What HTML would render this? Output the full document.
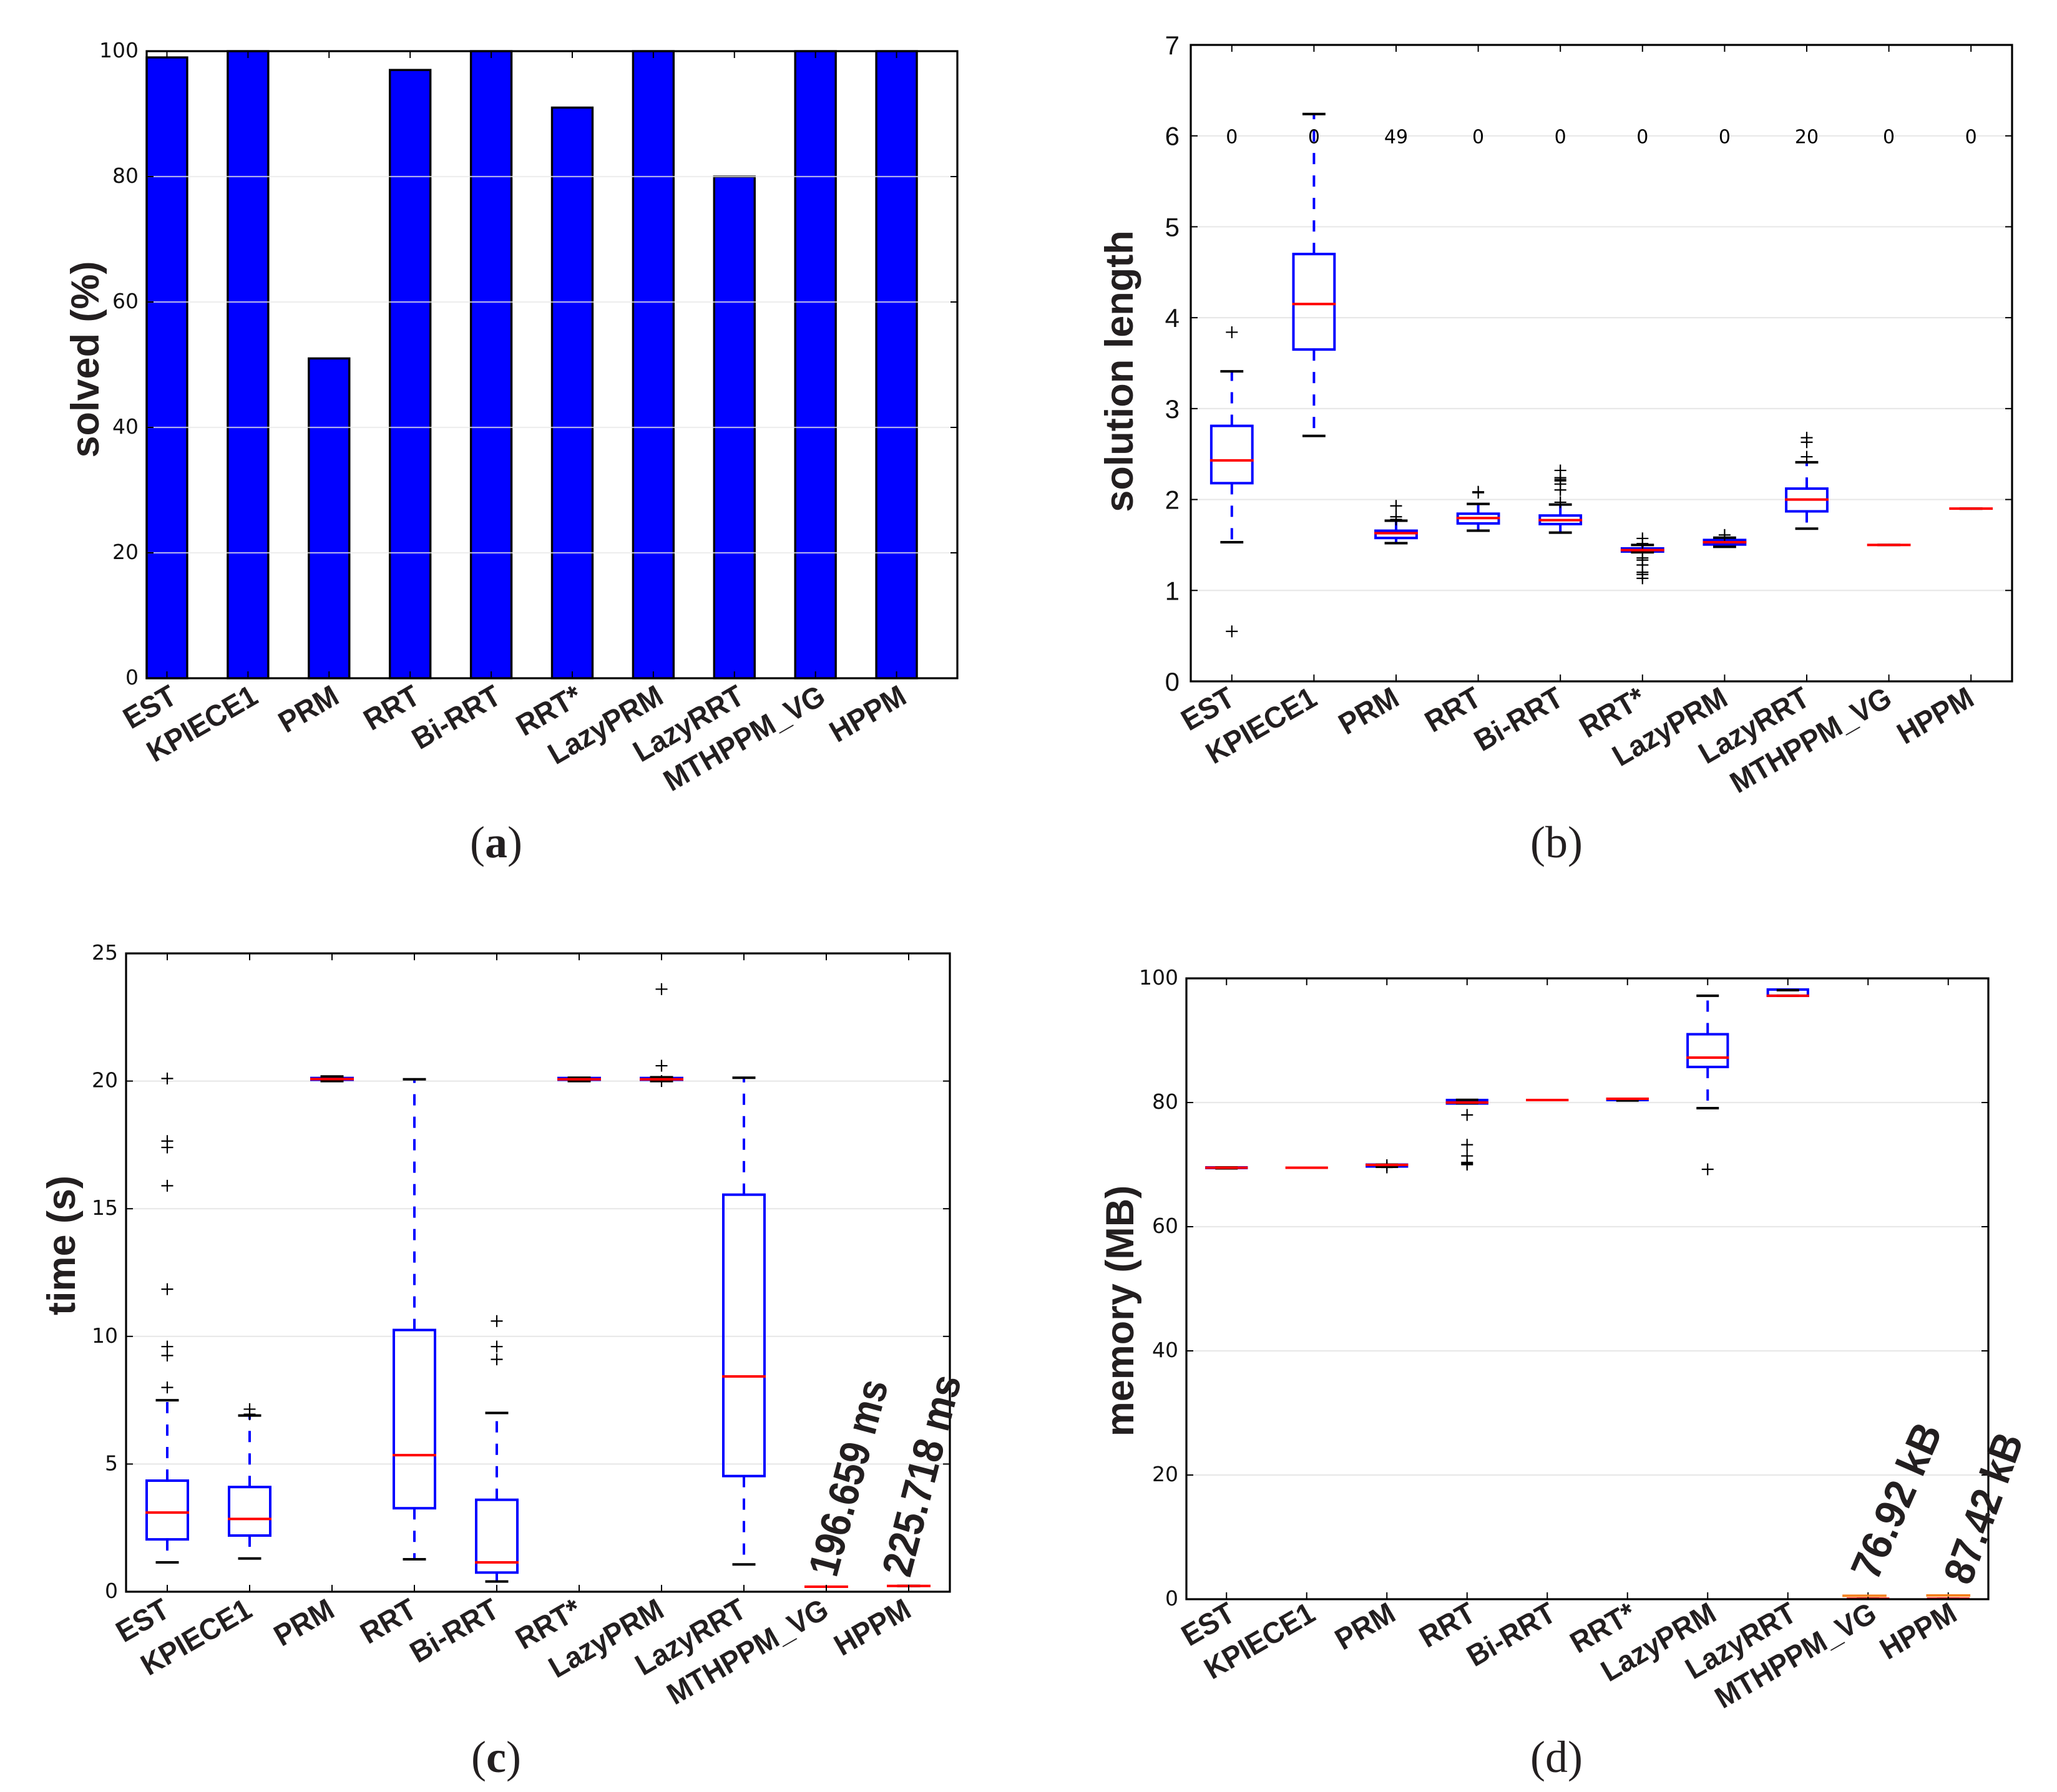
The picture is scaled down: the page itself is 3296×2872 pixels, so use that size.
<!DOCTYPE html>
<html lang="en">
<head>
<meta charset="utf-8">
<title>Planner benchmark charts</title>
<style>
html,body{margin:0;padding:0;background:#fff;}
svg{display:block;}
.ytitle{font:bold 63px "Liberation Sans",sans-serif;fill:#231f20;text-anchor:middle;}
.cap{font:72px "Liberation Serif",serif;fill:#231f20;text-anchor:middle;}
.note{font:bold 68px "Liberation Sans",sans-serif;fill:#231f20;}
</style>
</head>
<body>
<svg id="fig" xmlns="http://www.w3.org/2000/svg" width="3296" height="2872" viewBox="0 0 3296 2872">
<rect width="3296" height="2872" fill="#fff"/>
<g id="pa"></g>
<g id="pb"></g>
<g id="pc"></g>
<g id="pd"></g>

<text class="ytitle" transform="translate(158,576) rotate(-90)">solved (%)</text>
<text class="ytitle" transform="translate(1815,595) rotate(-90)">solution length</text>
<text class="ytitle" transform="translate(120,1996) rotate(-90)">time (s)</text>
<text class="ytitle" transform="translate(1816,2101) rotate(-90)">memory (MB)</text>

<text class="note" transform="translate(1340,2530) rotate(-75) scale(.89,1)">196.659 ms</text>
<text class="note" transform="translate(1458,2530) rotate(-75.5) scale(.91,1)">225.718 ms</text>
<text class="note" transform="translate(3007,2536) rotate(-66.4) scale(.96,1)">76.92 kB</text>
<text class="note" transform="translate(3157,2543) rotate(-70) scale(.91,1)">87.42 kB</text>

<text class="cap" x="795" y="1374"><tspan>(</tspan><tspan font-weight="bold">a</tspan><tspan>)</tspan></text>
<text class="cap" x="2494" y="1374">(b)</text>
<text class="cap" x="795" y="2840"><tspan>(</tspan><tspan font-weight="bold">c</tspan><tspan>)</tspan></text>
<text class="cap" x="2494" y="2840">(d)</text>
</svg>

<script>
const categories = ['EST','KPIECE1','PRM','RRT','Bi-RRT','RRT*','LazyPRM','LazyRRT','MTHPPM_VG','HPPM'];

const solvedValues = [99,100,51,97,100,91,100,80,100,100];
const solvedTicks = [0,20,40,60,80,100];

const lengthLow = [1.53,2.70,1.52,1.657,1.636,1.42,1.48,1.68,1.5,1.9];
const lengthQ1 = [2.18,3.65,1.577,1.737,1.73,1.428,1.505,1.87,1.5,1.9];
const lengthMedian = [2.43,4.15,1.63,1.796,1.773,1.444,1.53,2.0,1.5,1.9];
const lengthQ3 = [2.81,4.70,1.657,1.844,1.824,1.462,1.555,2.12,1.5,1.9];
const lengthHigh = [3.41,6.24,1.767,1.952,1.945,1.50,1.58,2.41,1.5,1.9];
const lengthFliers = [[3.84,0.55],[],[1.93,1.81,1.78],[2.085,2.075],[1.97,2.105,2.17,2.205,2.22,2.24,2.32],[1.572,1.515,1.357,1.334,1.28,1.2,1.176,1.133],[1.61],[2.47,2.63,2.68],[],[]];
const lengthTicks = [0,1,2,3,4,5,6,7];
const unsolvedCounts = ['0','0','49','0','0','0','0','20','0','0'];
const unsolvedLevel = 6;

const timeLow = [1.15,1.3,20.0,1.27,0.4,20.0,20.0,1.07,0.197,0.226];
const timeQ1 = [2.05,2.2,20.05,3.27,0.75,20.05,20.05,4.53,0.197,0.226];
const timeMedian = [3.1,2.85,20.08,5.35,1.15,20.07,20.07,8.43,0.197,0.226];
const timeQ3 = [4.35,4.1,20.12,10.25,3.6,20.12,20.12,15.55,0.197,0.226];
const timeHigh = [7.5,6.9,20.18,20.07,7.0,20.13,20.15,20.13,0.197,0.226];
const timeFliers = [[8.0,9.25,9.6,11.85,15.9,17.4,17.65,20.1],[6.95,7.15],[],[],[9.1,9.6,10.6],[],[20.0,20.6,23.6],[],[],[]];
const timeTicks = [0,5,10,15,20,25];

const memoryLow = [69.4,69.5,69.65,79.9,80.4,80.33,79.1,97.2,0.077,0.087];
const memoryQ1 = [69.45,69.5,69.7,79.85,80.4,80.4,85.73,97.2,0.077,0.087];
const memoryMedian = [69.5,69.5,69.95,80.0,80.4,80.6,87.24,97.2,0.077,0.087];
const memoryQ3 = [69.55,69.5,70.0,80.4,80.4,80.6,91.0,98.2,0.077,0.087];
const memoryHigh = [69.55,69.5,70.0,80.43,80.4,80.6,97.2,98.1,0.077,0.087];
const memoryFliers = [[],[],[69.9,69.55],[78,73.2,71.4,70.35,70.15,70],[],[],[69.25],[],[],[]];
const memoryTicks = [0,20,40,60,80,100];
const orangeCategories = [8.955,10];
const orangeValues = [0.55,0.6];

const NS = 'http://www.w3.org/2000/svg';
function mk(parent, tag, attrs, text) {
  const e = document.createElementNS(NS, tag);
  for (const k in attrs) e.setAttribute(k, attrs[k]);
  if (text !== undefined) e.textContent = text;
  parent.appendChild(e);
  return e;
}
function scales(g) {
  return {
    x: v => g.left + (v - g.xMin) / (g.xMax - g.xMin) * (g.right - g.left),
    y: v => g.bottom - (v - g.yMin) / (g.yMax - g.yMin) * (g.bottom - g.top)
  };
}

function drawGrid(p, g, s, ticks) {
  ticks.forEach(t => {
    if (t === ticks[0] || t === ticks[ticks.length - 1]) return;
    const ln = mk(p, 'line', {x1:g.left, x2:g.right, y1:s.y(t), y2:s.y(t), stroke:'#e8e8e8', 'stroke-width':2.2, 'stroke-opacity':g.gridOpacity});
    
    
  });
}

function drawFrame(p, g, s, ticks, xTicks) {
  ticks.forEach(t => {
    const l = mk(p, 'line', {x1:g.left, x2:g.left + 11, y1:s.y(t), y2:s.y(t), stroke:'#000', 'stroke-width':2});
    
    
    const r = mk(p, 'line', {x1:g.right - 11, x2:g.right, y1:s.y(t), y2:s.y(t), stroke:'#000', 'stroke-width':2});
    
    
    const lab = mk(p, 'text', {x:g.left - g.labelGap, y:s.y(t) + g.tickDy, 'text-anchor':'end', 'font-family':g.tickFont, 'font-size':g.tickSize, fill:'#111'}, String(t));
    
    
  });
  categories.forEach((c, i) => {
    const x = s.x(xTicks[i]);
    const top = mk(p, 'line', {x1:x, x2:x, y1:g.top, y2:g.top + 11, stroke:'#000', 'stroke-width':2});
    
    
    const bot = mk(p, 'line', {x1:x, x2:x, y1:g.bottom - 11, y2:g.bottom, stroke:'#000', 'stroke-width':2});
    
    
    const lab = mk(p, 'text', {
      transform:'translate(' + (x + g.xLabelDx) + ',' + (g.bottom + g.xLabelDy) + ') rotate(-30) scale(.95,1)',
      'text-anchor':'end', 'font-family':'"Liberation Sans",sans-serif', 'font-weight':'bold', 'font-size':48, fill:'#231f20'
    }, c);
    
    
  });
  const frame = mk(p, 'rect', {x:g.left, y:g.top, width:g.right - g.left, height:g.bottom - g.top, fill:'none', stroke:'#000', 'stroke-width':3.2});
  
  
}

function drawBoxes(p, g, s, low, q1, med, q3, high, fliers) {
  const unit = s.x(1) - s.x(0);
  categories.forEach((c, i) => {
    const x = s.x(i + 1), hw = unit * 0.25, cw = unit * 0.14;
    const whiskerUp = mk(p, 'line', {x1:x, x2:x, y1:s.y(q3[i]), y2:s.y(high[i]), stroke:'#00f', 'stroke-width':4, 'stroke-dasharray':'18 18'});
    
    
    const whiskerDown = mk(p, 'line', {x1:x, x2:x, y1:s.y(q1[i]), y2:s.y(low[i]), stroke:'#00f', 'stroke-width':4, 'stroke-dasharray':'18 18'});
    
    
    const box = mk(p, 'rect', {x:x - hw, y:s.y(q3[i]), width:hw * 2, height:Math.max(0, s.y(q1[i]) - s.y(q3[i])), fill:'none', stroke:'#00f', 'stroke-width':4});
    
    
    const capHigh = mk(p, 'line', {x1:x - cw, x2:x + cw, y1:s.y(high[i]), y2:s.y(high[i]), stroke:'#000', 'stroke-width':4});
    
    
    const capLow = mk(p, 'line', {x1:x - cw, x2:x + cw, y1:s.y(low[i]), y2:s.y(low[i]), stroke:'#000', 'stroke-width':4});
    
    
    fliers[i].forEach(v => {
      const y = s.y(v);
      const f = mk(p, 'path', {d:'M' + (x - 9.5) + ' ' + y + 'H' + (x + 9.5) + 'M' + x + ' ' + (y - 9.5) + 'V' + (y + 9.5), stroke:'#000', 'stroke-width':2.2, fill:'none'});
      
      
    });
    const m = mk(p, 'line', {x1:x - hw - 2, x2:x + hw + 2, y1:s.y(med[i]), y2:s.y(med[i]), stroke:'#f00', 'stroke-width':4});
    
    
  });
}

const dejavu = '"DejaVu Sans",sans-serif';
const tickPositions = categories.map((c, i) => i + 1);

/* panel a */
(function () {
  const g = {left:235, right:1534, top:82, bottom:1087, xMin:0, xMax:10, yMin:0, yMax:100, labelGap:13, tickDy:10, tickFont:dejavu, tickSize:33, xLabelDx:19, xLabelDy:38, gridOpacity:0.75};
  const s = scales(g), p = document.getElementById('pa');
  solvedValues.forEach((v, i) => {
    const b = mk(p, 'rect', {x:s.x(i), y:s.y(v), width:s.x(i + 0.5) - s.x(i), height:s.y(0) - s.y(v), fill:'#00f', stroke:'#000', 'stroke-width':3.4});
    
    
  });
  drawGrid(p, g, s, solvedTicks);
  drawFrame(p, g, s, solvedTicks, categories.map((c, i) => i + 0.25));
})();

/* panel b */
(function () {
  const g = {left:1908, right:3224, top:72, bottom:1092, xMin:0.5, xMax:10.5, yMin:0, yMax:7, labelGap:18, tickDy:15, tickFont:'"Liberation Sans",sans-serif', tickSize:42, xLabelDx:8, xLabelDy:36, gridOpacity:1};
  const s = scales(g), p = document.getElementById('pb');
  drawGrid(p, g, s, lengthTicks);
  drawBoxes(p, g, s, lengthLow, lengthQ1, lengthMedian, lengthQ3, lengthHigh, lengthFliers);
  drawFrame(p, g, s, lengthTicks, tickPositions);
  unsolvedCounts.forEach((t, i) => {
    const lab = mk(p, 'text', {x:s.x(i + 1), y:s.y(unsolvedLevel) + 12, 'text-anchor':'middle', 'font-family':dejavu, 'font-size':30, fill:'#000'}, t);
    
    
  });
})();

/* panel c */
(function () {
  const g = {left:202, right:1522, top:1528, bottom:2551, xMin:0.5, xMax:10.5, yMin:0, yMax:25, labelGap:13, tickDy:10, tickFont:dejavu, tickSize:33, xLabelDx:7, xLabelDy:38, gridOpacity:1};
  const s = scales(g), p = document.getElementById('pc');
  drawGrid(p, g, s, timeTicks);
  drawBoxes(p, g, s, timeLow, timeQ1, timeMedian, timeQ3, timeHigh, timeFliers);
  drawFrame(p, g, s, timeTicks, tickPositions);
})();

/* panel d */
(function () {
  const g = {left:1901, right:3186, top:1568, bottom:2563, xMin:0.5, xMax:10.5, yMin:0, yMax:100, labelGap:13, tickDy:10, tickFont:dejavu, tickSize:33, xLabelDx:17, xLabelDy:32, gridOpacity:1};
  const s = scales(g), p = document.getElementById('pd');
  drawGrid(p, g, s, memoryTicks);
  drawBoxes(p, g, s, memoryLow, memoryQ1, memoryMedian, memoryQ3, memoryHigh, memoryFliers);
  drawFrame(p, g, s, memoryTicks, tickPositions);
  const unit = s.x(1) - s.x(0);
  orangeValues.forEach((v, i) => {
    const x = s.x(orangeCategories[i]);
    const o = mk(p, 'line', {x1:x - unit * 0.275, x2:x + unit * 0.275, y1:s.y(v), y2:s.y(v), stroke:'#f58220', 'stroke-width':4});
    
    
  });
})();
</script>
</body>
</html>
